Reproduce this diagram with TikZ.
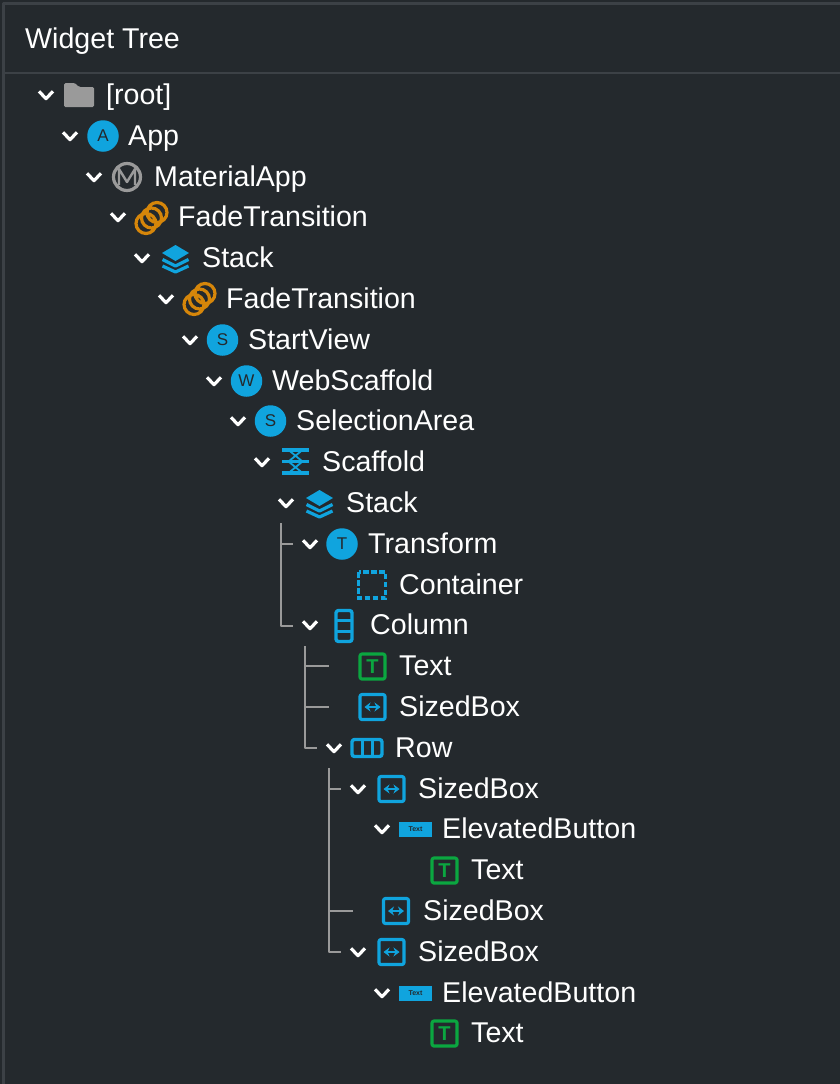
\documentclass[tikz,border=0pt]{standalone}
\usepackage{fontspec}
\setmainfont{Liberation Sans}
\usepackage{xcolor}
\usetikzlibrary{arrows.meta,shapes.geometric}
\definecolor{panelbg}{HTML}{24292D}
\definecolor{panelline}{HTML}{3C4146}
\definecolor{iconblue}{HTML}{10A4DE}
\definecolor{icongreen}{HTML}{0BA640}
\definecolor{iconorange}{HTML}{D6860A}
\definecolor{icongrey}{HTML}{9A9A9A}
\tikzset{
  every picture/.style={line join=round, >=Stealth},
  lbl/.style={anchor=base west, inner sep=0pt, yshift=1pt, text=white, font=\fontsize{28.6}{30}\selectfont},
  guide/.style={draw=icongrey!100!white, line width=2pt},
  roundicon/.style={circle, fill=iconblue, minimum size=31.5pt, inner sep=0pt, text=panelbg, font=\fontsize{17}{17}\selectfont},
  texticon/.style={rectangle, draw=icongreen, line width=3.2pt, rounded corners=2pt, minimum size=25pt, inner sep=0pt, text=icongreen, font=\bfseries\fontsize{20}{20}\selectfont},
  chev/.pic={\draw[white, line width=3.2pt] (-7,-3.7)--(0,3.7)--(7,-3.7);},
  folder/.pic={\fill[icongrey, rounded corners=1.5pt] (-15,-12)--(-4,-12)--(0,-8)--(15,-8)--(15,12)--(-15,12)--cycle;},
  matl/.pic={\draw[icongrey, line width=3.2pt] (0,0) circle (13.5);
    \draw[icongrey, line width=2.4pt] (-8,8)--(-8,-8)--(0,5)--(8,-8)--(8,8);},
  fade/.pic={\draw[iconorange, line width=3.2pt]
      (-5.5,5.5) circle (10) (0,0) circle (10) (5.5,-5.5) circle (10);},
  layers/.pic={\fill[iconblue] (-13.5,-5)--(0,-13)--(13.5,-5)--(0,3)--cycle;
    \draw[iconblue, line width=3.2pt] (-13,1.5)--(0,8)--(13,1.5) (-13,8)--(0,14)--(13,8);},
  scaf/.pic={\draw[iconblue, line width=3.4pt] (-13.5,-11.5)--(13.5,-11.5) (-13.5,0)--(13.5,0) (-13.5,11.5)--(13.5,11.5);
    \draw[iconblue, line width=1.8pt] (-7,-11.5)--(7,0) (7,-11.5)--(-7,0) (-7,0)--(7,11.5) (7,0)--(-7,11.5);},
  dashbox/.pic={\draw[iconblue, line width=3.4pt, line join=miter, dash pattern=on 5.5pt off 2.5pt] (-13.5,-13)rectangle(13.5,13);},
  colbox/.pic={\draw[iconblue, line width=3.4pt, rounded corners=2.5pt] (-8,-15.5)rectangle(8,15.5);
    \draw[iconblue, line width=3pt] (-8,-5.5)--(8,-5.5) (-8,5)--(8,5);},
  rowbox/.pic={\draw[iconblue, line width=3.4pt, rounded corners=2.5pt] (-15,-8.5)rectangle(15,8.5);
    \draw[iconblue, line width=3pt] (-5,-8.5)--(-5,8.5) (5,-8.5)--(5,8.5);},
  sizebox/.pic={\draw[iconblue, line width=3.2pt, rounded corners=2pt] (-12.5,-12.5)rectangle(12.5,12.5);
    \draw[iconblue, line width=2.6pt, {Stealth[length=6pt,width=9pt]}-{Stealth[length=6pt,width=9pt]}] (-8,0)--(8,0);},
  btnicon/.style={rectangle, fill=iconblue, minimum width=33pt, minimum height=15pt, inner sep=0pt, text=panelbg, font=\bfseries\fontsize{7}{7}\selectfont},
}
\begin{document}
\begin{tikzpicture}[x=1pt,y=-1pt]
\useasboundingbox (0,0) rectangle (840,1084);
\fill[panelbg] (0,0) rectangle (840,1084);
% panel frame
\draw[panelline, line width=2.5pt] (840,3.5)--(3.5,3.5)--(3.5,1084);
\draw[panelline, line width=2pt] (3.5,73)--(840,73);
\node[lbl] (title) at (25,49) {Widget Tree};
% tree rows
\foreach \x/\y in {46/95,70/136,94/177,118/217,142/258,166/299,190/340,214/381,238/421,262/462,286/503,310/544,310/625,334/748,358/789,382/829,358/952,382/993}
  \pic at (\x,\y) {chev};
\pic at (79,95) {folder};
\node[lbl] (root) at (106,105) {[root]};
\node[roundicon] (iApp) at (103,136) {A};
\node[lbl] (app) at (128,146) {App};
\pic at (127,177) {matl};
\node[lbl] (matapp) at (154,187) {MaterialApp};
\pic at (151.5,218) {fade};
\node[lbl] (fadeA) at (178,227) {FadeTransition};
\pic at (175.5,258) {layers};
\node[lbl] (stackA) at (202,268) {Stack};
\pic at (199.5,299) {fade};
\node[lbl] (fadeB) at (226,309) {FadeTransition};
\node[roundicon] (iStart) at (222.5,340) {S};
\node[lbl] (startview) at (248,350) {StartView};
\node[roundicon] (iWeb) at (246.5,381) {W};
\node[lbl] (webscaf) at (272,391) {WebScaffold};
\node[roundicon] (iSel) at (270.5,421) {S};
\node[lbl] (selarea) at (296,431) {SelectionArea};
\pic at (295.5,461.5) {scaf};
\node[lbl] (scaffold) at (322,472) {Scaffold};
\pic at (319.5,503) {layers};
\node[lbl] (stackB) at (346,513) {Stack};
\node[roundicon] (iTrans) at (342,544) {T};
\node[lbl] (transform) at (368,554) {Transform};
\pic at (372,585) {dashbox};
\node[lbl] (container) at (399,595) {Container};
\pic at (344,626) {colbox};
\node[lbl] (column) at (370,635) {Column};
\node[texticon] (iTextA) at (372.5,666.5) {T};
\node[lbl] (textA) at (399,676) {Text};
\pic at (372.5,707) {sizebox};
\node[lbl] (sizedA) at (399,717) {SizedBox};
\pic at (367,748) {rowbox};
\node[lbl] (row) at (395,758) {Row};
\pic at (391.5,789) {sizebox};
\node[lbl] (sizedB) at (418,799) {SizedBox};
\node[btnicon] (iBtnA) at (415.5,829.5) {Text};
\node[lbl] (btnA) at (442,839) {ElevatedButton};
\node[texticon] (iTextB) at (444.5,870.5) {T};
\node[lbl] (textB) at (471,880) {Text};
\pic at (396,911) {sizebox};
\node[lbl] (sizedC) at (423,921) {SizedBox};
\pic at (391.5,952) {sizebox};
\node[lbl] (sizedD) at (418,962) {SizedBox};
\node[btnicon] (iBtnB) at (415.5,993) {Text};
\node[lbl] (btnB) at (442,1003) {ElevatedButton};
\node[texticon] (iTextC) at (444.5,1033.5) {T};
\node[lbl] (textC) at (471,1043) {Text};
% guide lines
\coordinate (gA) at (281,523);
\coordinate (gAa) at (281,544);
\coordinate (gAb) at (293,544);
\coordinate (gAc) at (293,626);
\draw[guide] (gA) |- (gAc);
\draw[guide] (gAa) -- (gAb);
\coordinate (gB) at (305,646);
\coordinate (gBa) at (305,666);
\coordinate (gBb) at (329,666);
\coordinate (gBc) at (305,707);
\coordinate (gBd) at (329,707);
\coordinate (gBe) at (317,748);
\draw[guide] (gB) |- (gBe);
\draw[guide] (gBa) -- (gBb);
\draw[guide] (gBc) -- (gBd);
\coordinate (gC) at (329,768);
\coordinate (gCa) at (329,789);
\coordinate (gCb) at (341,789);
\coordinate (gCc) at (329,911);
\coordinate (gCd) at (353,911);
\coordinate (gCe) at (341,952);
\draw[guide] (gC) |- (gCe);
\draw[guide] (gCa) -- (gCb);
\draw[guide] (gCc) -- (gCd);
\end{tikzpicture}
\end{document}
